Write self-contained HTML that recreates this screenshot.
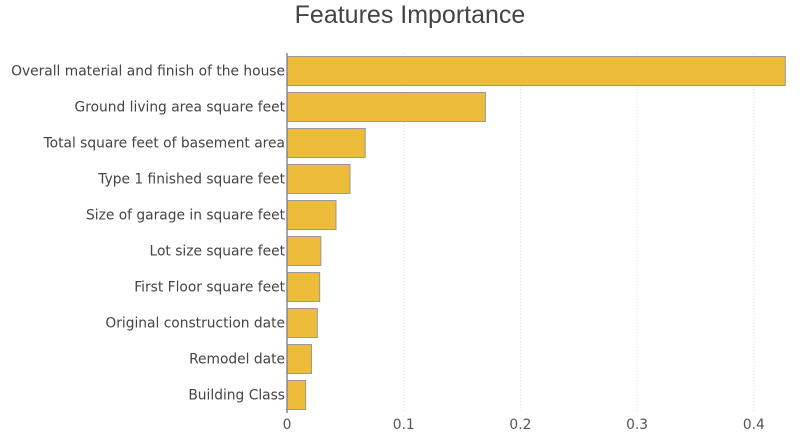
<!DOCTYPE html>
<html><head><meta charset="utf-8"><style>
body{margin:0;background:#fff;width:800px;height:441px;overflow:hidden}
svg text{font-family:"DejaVu Sans","Liberation Sans",sans-serif}
</style></head><body>
<svg id="c" width="800" height="441">
<text x="410" y="23" text-anchor="middle" font-size="25" fill="#444" style="font-family:'Liberation Sans',sans-serif">Features Importance</text>
</svg>
<script>
const categories=["Overall material and finish of the house","Ground living area square feet","Total square feet of basement area","Type 1 finished square feet","Size of garage in square feet","Lot size square feet","First Floor square feet","Original construction date","Remodel date","Building Class"];
const values=[0.427,0.170,0.067,0.054,0.042,0.029,0.028,0.026,0.021,0.016];
const ticks=[0,0.1,0.2,0.3,0.4];
const tickLabels=["0","0.1","0.2","0.3","0.4"];
const svgEl=document.getElementById('c');const NS='http://www.w3.org/2000/svg';
const x0=287,scale=1167,plotTop=53,step=36,bh=29;
const xs=v=>x0+v*scale;const ys=i=>plotTop+i*step+3.5;
function mk(t,a){const e=document.createElementNS(NS,t);for(const k in a)e.setAttribute(k,a[k]);svgEl.appendChild(e);return e;}
ticks.forEach((t,i)=>{
 if(t>0){const g=mk('line',{x1:xs(t),x2:xs(t),y1:plotTop,y2:413,stroke:'#ddd','stroke-dasharray':'1,2'});
 
 }
 const l=mk('text',{x:xs(t),y:429,'text-anchor':'middle','font-size':13.8,fill:'#555'});l.textContent=tickLabels[i];
 
 
});
categories.forEach((c,i)=>{
 const r=mk('rect',{x:x0,y:ys(i),width:xs(values[i])-x0,height:bh,fill:'#EDBC3A',stroke:'#999','stroke-width':1});
 
 
 const l=mk('text',{x:x0-2,y:ys(i)+bh/2+4.5,'text-anchor':'end','font-size':13.8,fill:'#444'});l.textContent=c;
 
 
});
const ax=mk('line',{x1:x0,x2:x0,y1:plotTop,y2:413,stroke:'#888','stroke-width':1.5});


</script>
</body></html>
